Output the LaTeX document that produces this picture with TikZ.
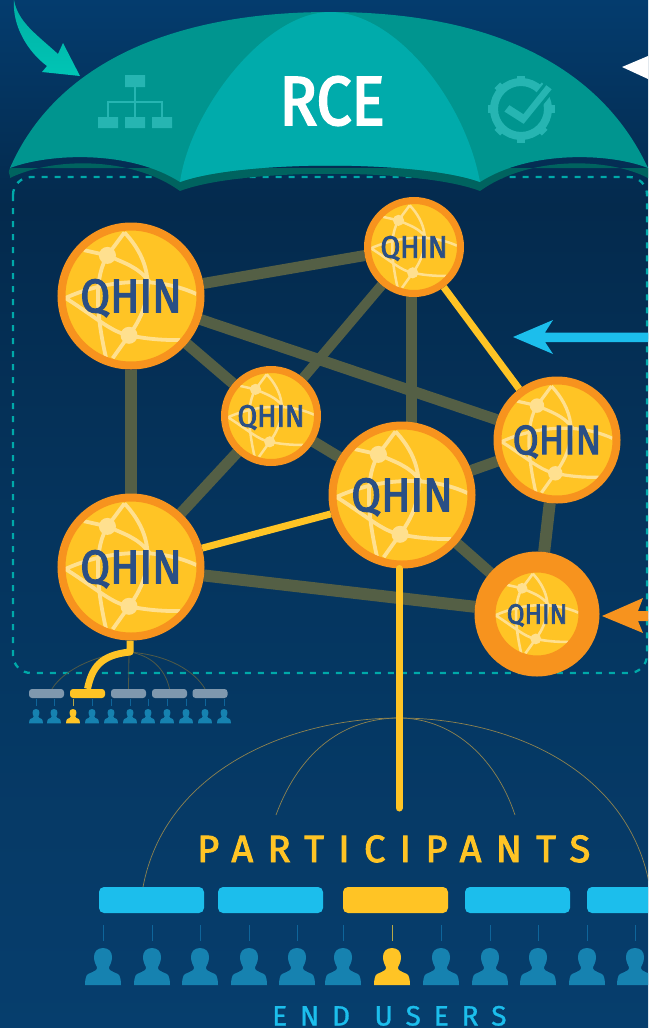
\documentclass[tikz,border=0pt]{standalone}
\usepackage{fontspec}
\setmainfont{Fira Sans}
\newfontfamily\qfont[FakeStretch=0.92,FakeBold=2.5]{Fira Sans}
\newfontfamily\rcefont[FakeStretch=0.9,FakeBold=3]{Fira Sans}
\newfontfamily\partfont[LetterSpace=38,FakeBold=2.5]{Fira Sans}
\newfontfamily\endfont[LetterSpace=46,WordSpace=1.2,FakeBold=1]{Fira Sans}
\definecolor{bgtop}{HTML}{043C6E}
\definecolor{bgmid}{HTML}{042A4D}
\definecolor{bgbot}{HTML}{063E6D}
\definecolor{tealside}{HTML}{00958F}
\definecolor{tealmid}{HTML}{00ABAB}
\definecolor{tealrim}{HTML}{00635F}
\definecolor{tealicon}{HTML}{26B5B2}
\definecolor{teallight}{HTML}{00C5B5}
\definecolor{dashteal}{HTML}{00A9A9}
\definecolor{qyellow}{HTML}{FFC425}
\definecolor{qorange}{HTML}{F7931E}
\definecolor{qtext}{HTML}{2A4F85}
\definecolor{qglobe}{HTML}{FFE08F}
\definecolor{olive}{HTML}{545F45}
\definecolor{skyblue}{HTML}{1CBEEC}
\definecolor{greybar}{HTML}{7F98AE}
\definecolor{persblue}{HTML}{1682B0}
\definecolor{tickblue}{HTML}{0F659A}
\definecolor{thingold}{HTML}{8F834F}
\definecolor{thinolive}{HTML}{4F5A48}
\pgfdeclareverticalshading{bgshade}{100bp}{color(0bp)=(bgbot); color(25bp)=(bgbot); color(50bp)=(bgbot!50!bgmid); color(65bp)=(bgmid); color(75bp)=(bgtop); color(100bp)=(bgtop)}
\pgfdeclarelayer{bgl}
\pgfdeclarelayer{edges}
\pgfdeclarelayer{disc}
\pgfsetlayers{bgl,edges,disc,main}
% name, x, y, outer radius, ring, font size, globe line width
\newcommand\qhinat[7]{%
  \pgfmathsetmacro\qcl{#4-#5/2}\pgfmathsetmacro\qin{#4-#5}%
  \node[qhin={\qcl}{#5}{#6}] (#1) at (#2,#3) {QHIN};
  \begin{pgfonlayer}{disc}
    \begin{scope}[shift={(#2,#3)},x=\qin pt,y=-\qin pt]
      \fill[qyellow] (0,0) circle (1.03);
      \clip (0,0) circle (1.03);
      \draw[qglobe,line width=#7pt,line join=round]
        (-0.72,-0.70) -- (-0.36,-0.62) .. controls (-0.1,-0.5) and (0.1,-0.45) .. (0.28,-0.22)
        (-0.10,-0.97) .. controls (0.25,-0.6) and (0.45,-0.05) .. (-0.03,0.60) -- (-0.28,0.95)
        (-0.10,-0.97) -- (-0.36,-0.62) .. controls (-0.55,-0.3) and (-0.55,0.2) .. (-0.38,0.95)
        (-1,0.03) .. controls (-0.5,-0.2) and (0.3,-0.35) .. (1,-0.03)
        (-1,0.03) .. controls (-0.5,0.35) and (-0.3,0.55) .. (-0.03,0.60) .. controls (0.2,0.65) and (0.5,0.68) .. (0.75,0.67);
      \fill[qglobe] (-0.36,-0.62) circle (0.13);
      \fill[qglobe] (-0.03,0.60) circle (0.13);
    \end{scope}
  \end{pgfonlayer}}
\tikzset{
  qhin/.style n args={3}{circle,inner sep=0pt,minimum size=#1*2pt,draw=qorange,line width=#2pt,
    text=qtext,font=\qfont\fontsize{#3}{#3}\selectfont,text height=#3*0.689pt,text depth=0pt},
  olivelink/.style={olive,line width=#1pt},
  yellowlink/.style={qyellow,line width=#1pt},
  barbox/.style={rounded corners=#1pt,inner sep=0pt,text height=0pt},
  thinarc/.style={thingold,line width=0.7pt},
  smallarc/.style={thinolive,line width=0.8pt},
  personpic/.pic={\path[pic actions] (0,0) .. controls (6,0) and (9,4) .. (9,9) .. controls (9,14) and (7,17) .. (6,19) .. controls (5.5,22) and (8,23) .. (15,26) .. controls (17,27) and (18,32) .. (18,37) -- (-18,37) .. controls (-18,32) and (-17,27) .. (-15,26) .. controls (-8,23) and (-5.5,22) .. (-6,19) .. controls (-7,17) and (-9,14) .. (-9,9) .. controls (-9,4) and (-6,0) .. (0,0) -- cycle;}
}
\begin{document}
\begin{tikzpicture}[x=1pt,y=-1pt]
\useasboundingbox (0,0) rectangle (648,1028);
\begin{pgfonlayer}{bgl}
\shade[shading=bgshade] (0,0) rectangle (648,1028);
\draw[dashteal,line width=2.3pt,dash pattern=on 6pt off 7pt,rounded corners=18pt] (13,177) rectangle (647,673);
\end{pgfonlayer}
\clip (0,0) rectangle (648,1028);
% top-left arrow
\shade[top color=teallight!55!tealside,bottom color=teallight,shading angle=0]
  (14,0) .. controls (18,22) and (36,34) .. (58,54) -- (63,43) -- (80,76) -- (42,72) -- (47,66) .. controls (28,52) and (12,26) .. (14,0) -- cycle;
% white arrow
\fill[white] (622,67) -- (648,56) -- (648,79) -- cycle;
% umbrella
\fill[tealrim] (10,176) .. controls (8,172) and (9,170) .. (10,168) -- (648,168) -- (648,178) .. controls (610,158) and (530,155) .. (480,191) .. controls (420,168) and (240,168) .. (180,191) .. controls (130,155) and (50,158) .. (10,178) -- cycle;
\fill[tealside] (10,168) .. controls (55,65) and (170,12) .. (330,12) .. controls (490,12) and (600,65) .. (648,168) .. controls (610,153) and (530,150) .. (480,182) .. controls (420,160) and (240,160) .. (180,182) .. controls (130,150) and (50,153) .. (10,168) -- cycle;
\fill[tealmid] (180,182) .. controls (190,110) and (265,12) .. (330,12) .. controls (395,12) and (465,100) .. (480,182) .. controls (420,160) and (240,160) .. (180,182) -- cycle;
\node[text=white,font=\rcefont\fontsize{69}{69}\selectfont,inner sep=0pt] (rce) at (332,101) {RCE};
% org icon
\fill[tealicon] (125,75) rectangle (145,87) (98,117) rectangle (118,128) (125,117) rectangle (145,128) (152,117) rectangle (172,128);
\draw[tealicon,line width=1.6pt] (135,87) -- (135,117) (108,117) -- (108,102) -- (162,102) -- (162,117);
% gear icon
\draw[tealicon,line width=8pt] (521,109) circle (27);
\foreach \a in {0,45,...,315}{\draw[tealicon,line width=8pt] (521,109) ++(\a:27) -- ++(\a:6.5);}
\filldraw[fill=tealicon,draw=tealside,line width=3pt,line join=miter] (509,103) -- (523,112) -- (546,83) -- (554,89) -- (524,126) -- (502,112) -- cycle;
% QHIN nodes
\qhinat{qa}{131}{296}{73.5}{8}{47}{3.8}
\qhinat{qb}{414}{247}{50}{7}{31}{2.5}
\qhinat{qc}{271}{416}{50}{7}{31}{2.5}
\qhinat{qd}{402}{495}{73.5}{8}{47}{3.8}
\qhinat{qe}{557}{440}{63.5}{8}{41}{3.2}
\qhinat{qf}{131}{567}{73.5}{8}{47}{3.8}
\qhinat{qg}{537}{614}{62.5}{21}{28}{2.6}
% QHIN links
\begin{pgfonlayer}{edges}
\draw[olivelink=11] (qa) -- (qb);
\draw[olivelink=12] (qa) -- (qf);
\draw[olivelink=11] (qa) -- (qc);
\draw[olivelink=11] (qa) -- (qe);
\draw[olivelink=10] (qb) -- (qc);
\draw[olivelink=11] ([xshift=-3pt]qb.center) -- ([xshift=9pt]qd.center);
\draw[olivelink=11] (qc) -- (qd);
\draw[olivelink=11] (qc) -- (qf);
\draw[olivelink=11] (qd) -- (qe);
\draw[olivelink=11] (qd) -- (qg);
\draw[olivelink=12] (qe) -- (qg);
\draw[olivelink=12] (qf) -- (qg);
\draw[yellowlink=7] (qb) -- (qe);
\draw[yellowlink=7] (qd) -- (qf);
\end{pgfonlayer}
% participants thin arcs
\coordinate (hubbig) at (399,718);
\coordinate (hubsmall) at (129,652);
\node[barbox=5,fill=skyblue,minimum width=105pt,minimum height=26pt] (pa) at (151.5,900) {};
\node[barbox=5,fill=skyblue,minimum width=105pt,minimum height=26pt] (pb) at (270.5,900) {};
\node[barbox=5,fill=qyellow,minimum width=105pt,minimum height=26pt] (pc) at (395.5,900) {};
\node[barbox=5,fill=skyblue,minimum width=105pt,minimum height=26pt] (pd) at (517.5,900) {};
\node[barbox=5,fill=skyblue,minimum width=105pt,minimum height=26pt] (pe) at (639.5,900) {};
\coordinate (arcl) at (143,887);
\coordinate (arcr) at (650,888);
\coordinate (arcil) at (276,815);
\coordinate (arcir) at (515,815);
\draw[thinarc] (arcl) .. controls (165,770) and (290,718) .. (hubbig) .. controls (510,718) and (630,770) .. (arcr);
\draw[thinarc] (arcil) .. controls (300,750) and (345,718) .. (hubbig) .. controls (450,718) and (495,755) .. (arcir);
\coordinate (qdend) at (399,808);
\draw[yellowlink=7,line cap=round] ([xshift=-3pt]qd.south) -- (qdend);
% small group
\node[barbox=3,fill=greybar,minimum width=35pt,minimum height=9pt] (ga) at (46.5,693.5) {};
\node[barbox=3,fill=qyellow,minimum width=35pt,minimum height=9pt] (gb) at (87.5,693.5) {};
\node[barbox=3,fill=greybar,minimum width=35pt,minimum height=9pt] (gc) at (128.5,693.5) {};
\node[barbox=3,fill=greybar,minimum width=35pt,minimum height=9pt] (gd) at (169.5,693.5) {};
\node[barbox=3,fill=greybar,minimum width=35pt,minimum height=9pt] (ge) at (210,693.5) {};
\draw[smallarc] (hubsmall) .. controls (100,654) and (65,668) .. ([xshift=5.5pt]ga.north);
\draw[smallarc] (hubsmall) -- (gc.north);
\draw[smallarc] (hubsmall) .. controls (150,655) and (165,668) .. (gd.north);
\draw[smallarc] (hubsmall) .. controls (170,655) and (195,672) .. ([xshift=-5pt]ge.north);
\draw[yellowlink=7,line join=round] ([xshift=-1pt]qf.south) -- (130,652) .. controls (100,655) and (92,668) .. (gb.north);
\foreach \x in {36,54,92,111,130,148,167,186,205,224}{
  \draw[tickblue,line width=0.7pt] (\x,699) -- (\x,706);
  \pic[fill=persblue,scale=0.385] at (\x,709) {personpic};
}
\draw[qyellow!70!tickblue,line width=0.7pt] (73,699) -- (73,706);
\pic[fill=qyellow,scale=0.385] at (73,709) {personpic};
% large people
\foreach \x in {103,152,200,249,297,343,441,490,538,587,635}{
  \draw[tickblue,line width=0.8pt] (\x,925) -- (\x,941);
  \pic[fill=persblue] at (\x,948) {personpic};
}
\draw[qyellow!70!tickblue,line width=0.8pt] (392,925) -- (392,941);
\pic[fill=qyellow] at (392,948) {personpic};
% texts
\node[anchor=base west,text=qyellow,font=\partfont\fontsize{38}{38}\selectfont,inner sep=0pt] (lblp) at (197,862) {PARTICIPANTS};
\node[anchor=base west,text=skyblue,font=\endfont\fontsize{28}{28}\selectfont,inner sep=0pt] (lble) at (272,1025.5) {END USERS};
% blue arrow
\fill[skyblue] (513,337) -- (553,320) -- (545,332.5) -- (648,332.5) -- (648,342) -- (545,342) -- (553,354) -- cycle;
% orange arrow
\fill[qorange] (602,616) -- (643,598) -- (638,611) -- (648,611) -- (648,621) -- (638,621) -- (643,633) -- cycle;
\end{tikzpicture}
\end{document}
